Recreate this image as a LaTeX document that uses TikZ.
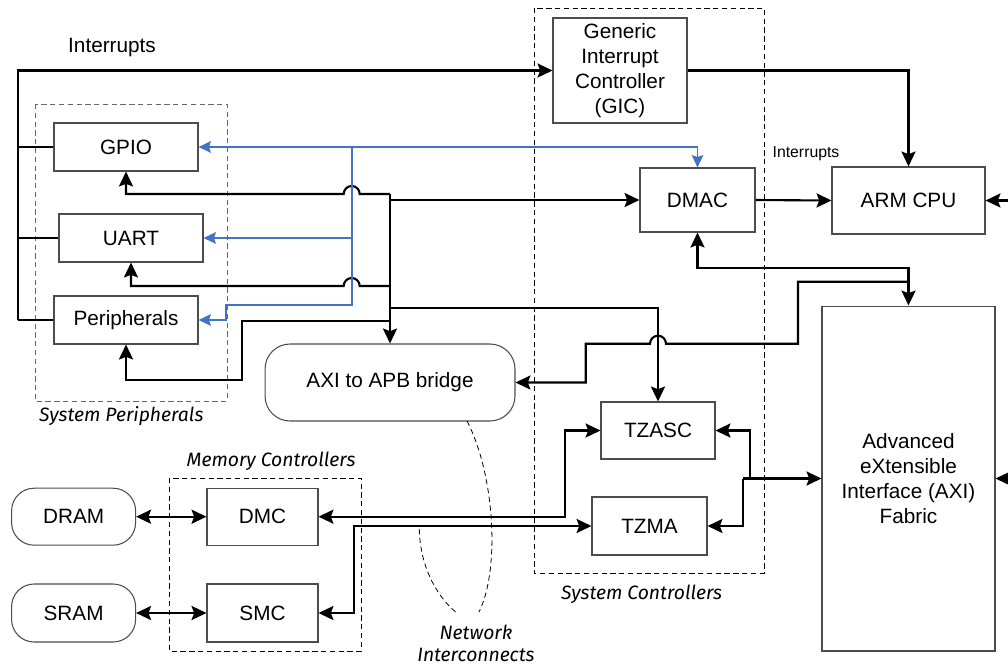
\documentclass[tikz,border=0pt]{standalone}
\usepackage{fontspec}
\setmainfont{Liberation Sans}
\newfontfamily\notefont{Fira Sans}
\usetikzlibrary{arrows.meta, calc}
\definecolor{linkBlue}{RGB}{68,114,196}
\definecolor{boxGray}{gray}{0.3}
\definecolor{grpGray}{gray}{0.4}
\newcommand{\boxfont}{\fontsize{11.8}{14.3}\selectfont}
\newcommand{\notefs}{\notefont\itshape\fontsize{11}{12.6}\selectfont}
\tikzset{
  blk/.style={draw=boxGray, line width=0.6pt, fill=white, align=center, font=\boxfont, inner sep=1pt},
  rblk/.style={blk, rounded corners=0.45cm},
  grp/.style={draw, line width=0.5pt, dash pattern=on 3pt off 2pt},
  note/.style={font=\notefs},
  link/.style={line width=1.2pt, -{Stealth[length=8.5pt,width=8pt,inset=1.5pt]}},
  dlink/.style={line width=1.2pt, {Stealth[length=8.5pt,width=8pt,inset=1.5pt]}-{Stealth[length=8.5pt,width=8pt,inset=1.5pt]}},
  tap/.style={line width=0.8pt},
  blink/.style={linkBlue, line width=1pt, -{Stealth[length=7pt,width=6.5pt,inset=1pt]}},
  dblink/.style={linkBlue, line width=1pt, {Stealth[length=7pt,width=6.5pt,inset=1pt]}-{Stealth[length=7pt,width=6.5pt,inset=1pt]}},
  wire/.style={dash pattern=on 3pt off 2pt, line width=0.45pt}
}

\begin{document}
\begin{tikzpicture}[x=0.02cm, y=-0.02cm]
    \useasboundingbox (0,0) rectangle (1008,664);

    % groups
    \draw[grp, grpGray] (35,104) rectangle (227,401);
    \draw[grp] (534,8) rectangle (764,573);
    \draw[grp] (169,478) rectangle (361,651);
    \node[note, anchor=west] (spLbl) at (33,416) {System Peripherals};
    \node[note, anchor=west] (scLbl) at (555,594) {System Controllers};
    \node[note] (mcLbl) at (271,461) {Memory Controllers};
    \node[note, align=center] (niLbl) at (476,643) {Network\\Interconnects};

    % blocks
    \node[blk, minimum width=2.88cm, minimum height=0.96cm] (gpio) at (126,147) {GPIO};
    \node[blk, minimum width=2.88cm, minimum height=0.96cm] (uart) at (131,238) {UART};
    \node[blk, minimum width=2.88cm, minimum height=0.96cm] (peri) at (126,320) {Peripherals};
    \node[rblk, rounded corners=0.5cm, minimum width=5cm, minimum height=1.54cm] (bridge) at (390,382.5) {AXI to APB bridge};
    \node[blk, minimum width=2.68cm, minimum height=2.1cm] (gic) at (620,70.5) {Generic\\Interrupt\\Controller\\(GIC)};
    \node[blk, minimum width=2.3cm, minimum height=1.28cm] (dmac) at (697.5,200) {DMAC};
    \node[blk, minimum width=3.06cm, minimum height=1.34cm] (cpu) at (908.5,200.5) {ARM CPU};
    \node[blk, minimum width=3.46cm, minimum height=6.9cm] (axi) at (908.5,478.5) {Advanced\\eXtensible\\Interface (AXI)\\Fabric};
    \node[blk, minimum width=2.28cm, minimum height=1.14cm] (tzasc) at (658,430.5) {TZASC};
    \node[blk, minimum width=2.3cm, minimum height=1.16cm] (tzma) at (649.5,526) {TZMA};
    \node[rblk, minimum width=2.48cm, minimum height=1.14cm] (dram) at (73.6,516.7) {DRAM};
    \node[rblk, minimum width=2.48cm, minimum height=1.16cm] (sram) at (73.6,613) {SRAM};
    \node[blk, minimum width=2.22cm, minimum height=1.14cm] (dmc) at (262.5,516.7) {DMC};
    \node[blk, minimum width=2.22cm, minimum height=1.16cm] (smc) at (262.5,613) {SMC};

    \node[font=\boxfont] (irqLbl) at (112,48) {Interrupts};
    \node[font=\fontsize{9}{11}\selectfont] (cpuIrqLbl) at (806,154) {Interrupts};

    % interrupts
    \coordinate (irqTop) at (18,70.5);
    \coordinate (irqBot) at (18,320);
    \draw[link] (irqBot) -- (irqTop) -- (gic.west);
    \draw[tap] (gpio.west) -- (gpio.west -| irqTop);
    \draw[tap] (uart.west) -- (uart.west -| irqTop);
    \draw[tap] (peri.west) -- (irqBot);
    \draw[link] (gic.east) -| (cpu.north);
    \draw[link] (dmac.east) -- (cpu.west);
    \coordinate (cpuIn) at (1008,200.5);
    \coordinate (axiIn) at (1008,478.5);
    \draw[link] (cpuIn) -- (cpu.east);
    \draw[link] (axiIn) -- (axi.east);

    % AXI side
    \coordinate (dmJoin) at (908.5,268);
    \draw[dlink] (dmac.south) |- (dmJoin) -- (axi.north);
    \coordinate (brJoin) at (908.5,281.7);
    \draw[link] (brJoin) -- (798,281.7) -- (798,343.7) -- (666,343.7)
        arc[start angle=0, end angle=180, radius=0.16cm] -- (585.7,343.7) |- (bridge.east);

    % peripheral bus
    \coordinate (busTop) at (390,194);
    \draw[link] (busTop) -- (bridge.north);
    \draw[link] (busTop) -- (359.7,194) arc[start angle=0, end angle=180, radius=0.16cm] -| (gpio.south);
    \draw[link] (390,200) -- (dmac.west);
    \draw[link] (390,286) -- (359.7,286) arc[start angle=0, end angle=180, radius=0.16cm] -| (uart.south);
    \draw[link] (390,308) -| (tzasc.north);
    \draw[link] (390,320.7) -- (241.7,320.7) -- (241.7,380) -| (peri.south);

    % blue links
    \coordinate (blTop) at (697.5,147);
    \draw[dblink] (gpio.east) -- (blTop) -- (dmac.north);
    \draw[blink] (351.7,147) -- (351.7,305) -- (226,305) -- (226,320) -- (peri.east);
    \draw[blink] (351.7,238) -- (uart.east);

    % memory side
    \draw[dlink] (dram.east) -- (dmc.west);
    \draw[dlink] (sram.east) -- (smc.west);
    \draw[dlink] (dmc.east) -- (565,516.7) |- (tzasc.west);
    \draw[dlink] (smc.east) -- (353.6,613) |- (tzma.west);
    \coordinate (tzJoin) at (743.3,478.5);
    \draw[link] (tzJoin) -- (axi.west);
    \draw[link] (tzJoin) -- (750,478.5) |- (tzasc.east);
    \draw[link] (tzJoin) |- (tzma.east);

    % network interconnects
    \draw[wire] (467,421) .. controls (495,475) and (500,570) .. (479,612);
    \draw[wire] (419.3,529) .. controls (420,570) and (440,600) .. (457,613);
\end{tikzpicture}
\end{document}
